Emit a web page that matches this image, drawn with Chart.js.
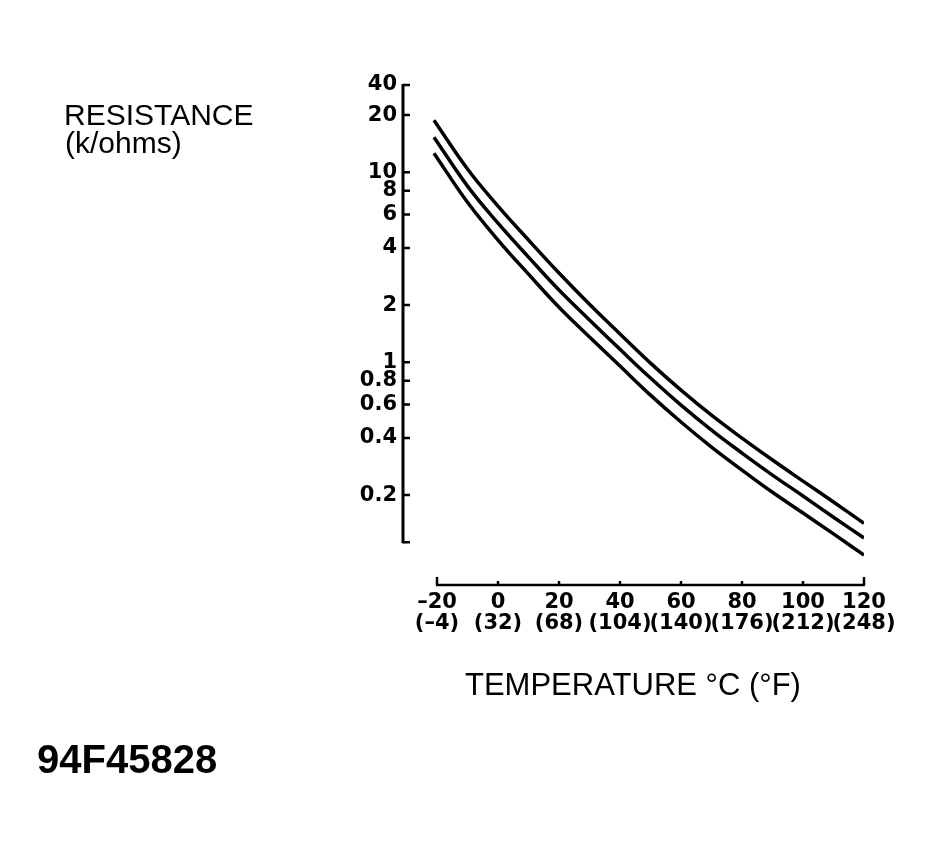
<!DOCTYPE html>
<html>
<head>
<meta charset="utf-8">
<script src="https://cdn.jsdelivr.net/npm/chart.js@4.4.1/dist/chart.umd.min.js"></script>
<style>
    html, body { margin: 0; padding: 0; background: #fff; }
    #wrap { position: relative; width: 937px; height: 851px; }
    #chart { position: absolute; left: 0; top: 0; }
    .txt { position: absolute; color: #000; font-family: "Liberation Sans", Arial, sans-serif; white-space: nowrap; }
    .title { font-size: 30px; line-height: 30px; }
    .xtitle { font-size: 31px; line-height: 31px; }
    .code { font-size: 40px; line-height: 40px; font-weight: bold; }
</style>
</head>
<body>
<div id="wrap">
    <canvas id="chart" width="937" height="851"></canvas>
    <div class="txt title" style="left:64px; top:100px;">RESISTANCE</div>
    <div class="txt title" style="left:65px; top:128px;">(k/ohms)</div>
    <div class="txt xtitle" style="left:465px; top:669px;">TEMPERATURE °C (°F)</div>
    <div class="txt code" style="left:37px; top:739px;">94F45828</div>
</div>
<script>
// temperature in °C, resistance in k/ohms for the three curves
const temps = [-21, -10, 0, 10, 20, 30, 40, 50, 60, 70, 80, 90, 100, 110, 120];
const upper = [18.8, 10.4, 6.64, 4.40, 2.95, 2.02, 1.41, 0.990, 0.714, 0.527, 0.399, 0.306, 0.237, 0.184, 0.142];
const middle = [15.3, 8.46, 5.40, 3.58, 2.40, 1.67, 1.17, 0.826, 0.595, 0.440, 0.333, 0.255, 0.198, 0.153, 0.119];
const lower = [12.6, 6.95, 4.40, 2.91, 1.95, 1.36, 0.955, 0.672, 0.485, 0.358, 0.271, 0.207, 0.161, 0.125, 0.0966];

const xTicksC = [-20, 0, 20, 40, 60, 80, 100, 120];
const xTicksF = ['(–4)', '(32)', '(68)', '(104)', '(140)', '(176)', '(212)', '(248)'];
const yTickValues = [40, 20, 10, 8, 6, 4, 2, 1, 0.8, 0.6, 0.4, 0.2];

const X_MIN = -31.15;
const X_MAX = 120;
const Y_MIN = 0.0673;
const Y_MAX = 28.8;
const Y_AXIS_END = 0.113;

const tickFont = { family: '"DejaVu Sans", sans-serif', size: 21, weight: 'bold' };

function toPoints(values) {
    return temps.map((t, i) => ({ x: t, y: values[i] }));
}

function curve(values) {
    return {
        data: toPoints(values),
        borderColor: '#000',
        borderWidth: 3.5,
        pointRadius: 0,
        fill: false,
        tension: 0.4,
    };
}

// axis lines are drawn detached from each other, like the printed chart
const detachedAxes = {
    id: 'detachedAxes',
    afterDraw(chart) {
        const { ctx, chartArea, scales } = chart;
        const xs = scales.x;
        const ys = scales.y;
        ctx.save();
        ctx.strokeStyle = '#000';
        ctx.lineCap = 'butt';

        // y axis
        const ax = chartArea.left;
        const yTop = ys.getPixelForValue(Y_MAX);
        const yEnd = ys.getPixelForValue(Y_AXIS_END);
        ctx.lineWidth = 3;
        ctx.beginPath();
        ctx.moveTo(ax, yTop - 1);
        ctx.lineTo(ax, yEnd + 1);
        ctx.stroke();
        ctx.lineWidth = 2.5;
        ctx.beginPath();
        yTickValues.forEach((v) => {
            const py = ys.getPixelForValue(Math.min(v, Y_MAX));
            ctx.moveTo(ax, py);
            ctx.lineTo(ax + 7, py);
        });
        ctx.moveTo(ax, yEnd);
        ctx.lineTo(ax + 7, yEnd);
        ctx.stroke();

        // x axis
        const ay = chartArea.bottom;
        const x0 = xs.getPixelForValue(xTicksC[0]);
        const x1 = xs.getPixelForValue(xTicksC[xTicksC.length - 1]);
        ctx.lineWidth = 2.5;
        ctx.beginPath();
        ctx.moveTo(x0 - 1, ay);
        ctx.lineTo(x1 + 1, ay);
        xTicksC.forEach((v, i) => {
            const px = xs.getPixelForValue(v);
            const len = (i === 0 || i === xTicksC.length - 1) ? 8 : 4;
            ctx.moveTo(px, ay);
            ctx.lineTo(px, ay - len);
        });
        ctx.stroke();
        ctx.restore();
    },
};

new Chart(document.getElementById('chart'), {
    type: 'line',
    data: {
        datasets: [curve(upper), curve(middle), curve(lower)],
    },
    options: {
        responsive: false,
        animation: false,
        events: [],
        layout: { padding: { left: 0, right: 73, top: 85, bottom: 0 } },
        plugins: {
            legend: { display: false },
            tooltip: { enabled: false },
        },
        scales: {
            x: {
                type: 'linear',
                bounds: 'data',
                min: X_MIN,
                max: X_MAX,
                grid: { display: false, drawTicks: false },
                border: { display: false },
                afterBuildTicks(scale) {
                    scale.ticks = xTicksC.map((v) => ({ value: v }));
                },
                afterFit(scale) {
                    scale.height = 266;
                },
                ticks: {
                    autoSkip: false,
                    maxRotation: 0,
                    minRotation: 0,
                    padding: 7,
                    color: '#000',
                    font: { ...tickFont, lineHeight: '21px' },
                    callback: (value, index) => [String(xTicksC[index]).replace('-', '–'), xTicksF[index]],
                },
            },
            y: {
                type: 'logarithmic',
                bounds: 'data',
                min: Y_MIN,
                max: Y_MAX,
                grid: { display: false, drawTicks: false },
                border: { display: false },
                afterBuildTicks(scale) {
                    scale.ticks = yTickValues.map((v) => ({ value: Math.min(v, Y_MAX) }));
                },
                afterFit(scale) {
                    scale.width = 403;
                },
                ticks: {
                    autoSkip: false,
                    padding: 6,
                    color: '#000',
                    font: tickFont,
                    callback: (value, index) => String(yTickValues[index]),
                },
            },
        },
    },
    plugins: [detachedAxes],
});
</script>
</body>
</html>
